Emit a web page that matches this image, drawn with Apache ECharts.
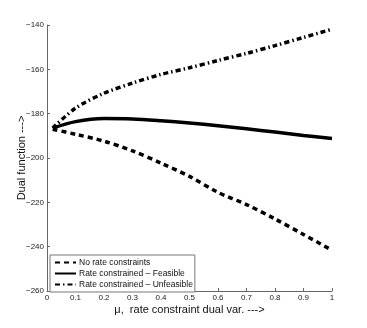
<!DOCTYPE html>
<html>
<head>
<meta charset="utf-8">
<script src="https://cdn.jsdelivr.net/npm/echarts@6/dist/echarts.min.js"></script>
<style>
  html, body { margin: 0; padding: 0; background: #fff; }
  #chart { width: 367px; height: 328px; }
</style>
</head>
<body>
<div id="chart"></div>
<script>
var mu = [0.02, 0.1, 0.2, 0.3, 0.4, 0.5, 0.6, 0.7, 0.8, 0.9, 1.0];
var noRate = [-187, -189.3, -192.4, -196.8, -202.3, -208.3, -215.5, -221, -227.5, -234.5, -241.6];
var feasible = [-186.5, -183.6, -182.2, -182.4, -183.2, -184.2, -185.4, -186.8, -188.3, -189.8, -191.2];
var unfeasible = [-186.5, -177.5, -170.8, -166.2, -162.3, -159.3, -156, -152.8, -149.3, -145.6, -141.9];
var names = ['No rate constraints', 'Rate constrained \u2013 Feasible', 'Rate constrained \u2013 Unfeasible'];

function pairs(ys) {
    return mu.map(function (x, i) { return [x, ys[i]]; });
}

var myChart = echarts.init(document.getElementById('chart'));

var axisText = {
    color: '#222',
    fontSize: 8,
    fontFamily: 'Liberation Sans, Arial, sans-serif'
};

option = {
    animation: false,
    grid: {
        left: 47,
        right: 35,
        top: 25,
        bottom: 37,
        outerBoundsMode: 'none'
    },
    legend: {
        orient: 'vertical',
        left: 50,
        top: 255,
        itemWidth: 21,
        itemHeight: 8,
        itemGap: 2,
        padding: [3, 2, 3, 4],
        borderColor: '#777',
        borderWidth: 1,
        backgroundColor: '#fff',
        itemStyle: { opacity: 0 },
        textStyle: {
            fontSize: 8.5,
            color: '#111',
            fontFamily: 'Liberation Sans, Arial, sans-serif',
            padding: [0, 0, 0, -2]
        },
        data: names
    },
    xAxis: {
        type: 'value',
        min: 0,
        max: 1,
        interval: 0.1,
        name: '\u03bc,  rate constraint dual var. --->',
        nameLocation: 'middle',
        nameGap: 13,
        nameMoveOverlap: false,
        nameTextStyle: {
            fontSize: 11,
            color: '#111',
            fontFamily: 'Liberation Sans, Arial, sans-serif'
        },
        axisLine: { lineStyle: { color: '#666' } },
        axisTick: { inside: true, length: 3, lineStyle: { color: '#666' } },
        axisLabel: Object.assign({ margin: 3 }, axisText),
        splitLine: { show: false }
    },
    yAxis: {
        type: 'value',
        min: -260,
        max: -140,
        interval: 20,
        name: 'Dual function --->',
        nameLocation: 'middle',
        nameGap: 20,
        nameMoveOverlap: false,
        nameTextStyle: {
            fontSize: 11,
            color: '#111',
            fontFamily: 'Liberation Sans, Arial, sans-serif'
        },
        axisLine: { show: true, lineStyle: { color: '#666' } },
        axisTick: { show: true, inside: true, length: 3, lineStyle: { color: '#666' } },
        axisLabel: Object.assign({ margin: 3, formatter: function (v) { return String(v).replace('-', '\u2212'); } }, axisText),
        splitLine: { show: false }
    },
    series: [{
        name: names[0],
        type: 'line',
        symbol: 'none',
        smooth: 0.3,
        data: pairs(noRate),
        lineStyle: { color: '#000', width: 3.5, type: [5, 4] },
        itemStyle: { color: '#000' }
    }, {
        name: names[1],
        type: 'line',
        symbol: 'none',
        smooth: 0.3,
        data: pairs(feasible),
        lineStyle: { color: '#000', width: 3.5, type: 'solid' },
        itemStyle: { color: '#000' }
    }, {
        name: names[2],
        type: 'line',
        symbol: 'none',
        smooth: 0.3,
        data: pairs(unfeasible),
        lineStyle: { color: '#000', width: 3.5, type: [5, 3, 1.5, 3] },
        itemStyle: { color: '#000' }
    }]
};

myChart.setOption(option);
</script>
</body>
</html>
